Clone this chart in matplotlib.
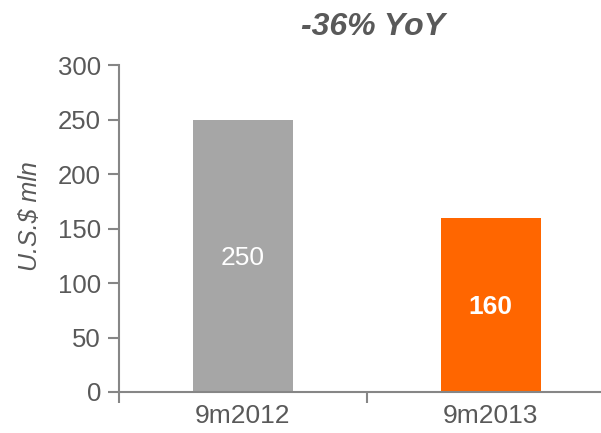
import matplotlib
matplotlib.use("Agg")
import matplotlib.pyplot as plt

# data
categories = ["9m2012", "9m2013"]
values = [250, 160]
bar_colors = ["#A6A6A6", "#FF6600"]
label_weights = ["normal", "bold"]
y_ticks = [0, 50, 100, 150, 200, 250, 300]
title = "-36% YoY"

plt.rcParams["font.family"] = ["Liberation Sans", "DejaVu Sans"]
text_color = "#595959"
axis_color = "#868686"

fig = plt.figure(figsize=(6.01, 4.33), dpi=100)
ax = fig.add_axes([0.198, 0.0947, 0.825, 0.755])

xs = list(range(len(categories)))
ax.bar(xs, values, width=0.403, color=bar_colors)

for x, v, w in zip(xs, values, label_weights):
    ax.text(x, v / 2 - 2, str(v), ha="center", va="center",
            color="white", fontsize=19, fontweight=w)

ax.set_xlim(-0.5, len(categories) - 0.5)
ax.set_ylim(0, 300)
ax.set_yticks(y_ticks)
ax.set_xticks(xs)
ax.set_xticklabels(categories)
# category boundary ticks, Excel style
ax.set_xticks([i - 0.5 for i in range(len(categories) + 1)], minor=True)
ax.tick_params(axis="x", which="major", length=0, pad=9,
               labelsize=19, labelcolor=text_color)
ax.tick_params(axis="x", which="minor", length=8, width=1.5, color=axis_color)
ax.tick_params(axis="y", length=8, width=1.5, color=axis_color,
               labelsize=18.5, labelcolor=text_color, pad=5)

for side in ["top", "right"]:
    ax.spines[side].set_visible(False)
for side in ["left", "bottom"]:
    ax.spines[side].set_color(axis_color)
    ax.spines[side].set_linewidth(1.5)

fig.text(0.05, 0.5, "U.S.$ mln", rotation=90, ha="center", va="center",
         fontsize=18, style="italic", color=text_color)
fig.text(0.62, 0.937, title, ha="center", va="center", fontsize=23,
         fontweight="bold", style="italic", color=text_color)

fig.savefig("out.png", dpi=100)
